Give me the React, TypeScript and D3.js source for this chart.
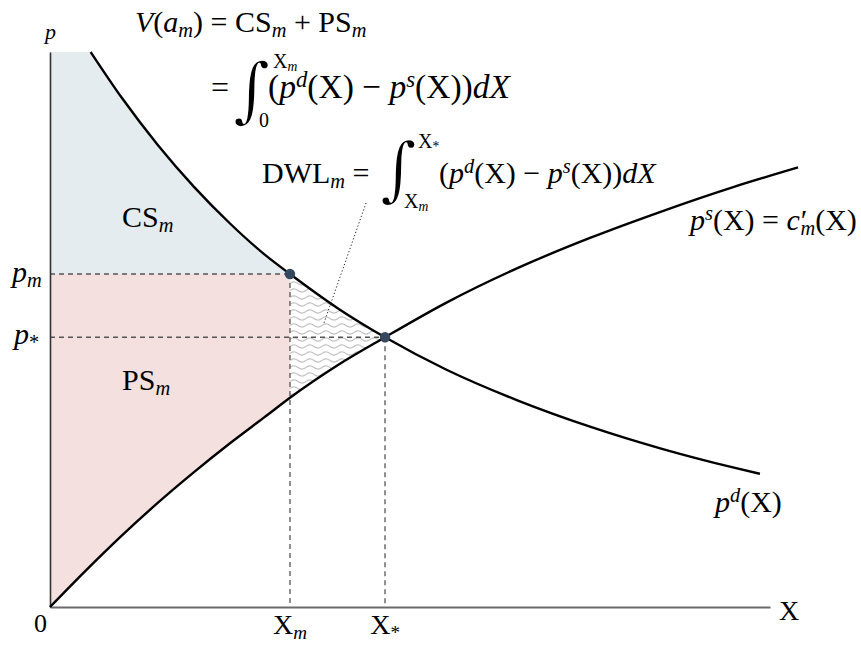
import React, { useEffect, useRef } from 'react';
import * as d3 from 'd3';

const W = 861;
const H = 645;

// demand curve p^d(X)
const demandX = [0.565, 1, 1.5, 2, 2.5, 3, 3.333, 4, 4.653, 5.5, 6.5, 7.5, 8.5, 9.5, 9.86];
const demandP = [10.0, 9.17, 8.32, 7.57, 6.91, 6.33, 6.0, 5.38, 4.86, 4.28, 3.72, 3.25, 2.85, 2.51, 2.4];

// supply curve p^s(X) = c'_m(X)
const supplyX = [0, 0.5, 1, 1.5, 2, 2.5, 3, 3.333, 4, 4.653, 5.5, 6.5, 7.5, 8.5, 9.5, 10.39];
const supplyP = [0, 0.66, 1.29, 1.88, 2.43, 2.95, 3.44, 3.77, 4.36, 4.86, 5.48, 6.11, 6.65, 7.13, 7.57, 7.92];

// monopoly point (X_m, p_m) and competitive point (X_*, p_*)
const markX = [3.333, 4.653];
const markP = [6.0, 4.86];
const pTop = 10;

const FONT = '"Liberation Serif", "Times New Roman", serif';

type Part = [string, string?, number?];

// kinds: 'i' italic, 'b' subscript, 'p' superscript (combine e.g. 'bi'); third item = dx
function mathText(g: any, x: number, y: number, parts: Part[], size: number, anchor = 'start') {
  const t = g.append('text')
    .attr('x', x).attr('y', y)
    .attr('font-size', size)
    .attr('text-anchor', anchor)
    .style('white-space', 'pre');
  let shift = 0;
  parts.forEach(([s, k = '', dx]) => {
    const sub = k.includes('b');
    const sup = k.includes('p');
    const target = sub ? size * 0.17 : sup ? -size * 0.34 : 0;
    const ts = t.append('tspan').text(s).attr('dy', target - shift);
    if (dx) ts.attr('dx', dx);
    if (sub || sup) ts.attr('font-size', size * 0.68);
    if (k.includes('i')) ts.attr('font-style', 'italic');
    shift = target;
  });
  return t;
}

// tall integral sign, its stroke thinned with a white outline
function integral(g: any, x: number, top: number, bottom: number) {
  const h = bottom - top;
  const size = h * 0.98;
  g.append('text')
    .text('\u222B')
    .attr('font-family', '"DejaVu Serif", serif')
    .attr('font-size', size)
    .attr('x', x)
    .attr('y', bottom - size * 0.2)
    .attr('stroke', '#fff')
    .attr('stroke-width', 1.6);
}

function Chart() {
  const ref = useRef<SVGSVGElement>(null);

  useEffect(() => {
    const svg = d3.select(ref.current);
    svg.selectAll('*').remove();

    const x = d3.scaleLinear().domain([0, 10]).range([50, 770]);
    const y = d3.scaleLinear().domain([0, 10]).range([607, 52]);

    const demand = demandX.map((d, i) => [d, demandP[i]] as [number, number]);
    const supply = supplyX.map((d, i) => [d, supplyP[i]] as [number, number]);
    const [Xm, Xs] = markX;
    const [pm] = markP;

    const line = d3.line<[number, number]>()
      .x(d => x(d[0]))
      .y(d => y(d[1]))
      .curve(d3.curveMonotoneX);

    const defs = svg.append('defs');

    defs.append('clipPath').attr('id', 'below-demand')
      .append('path')
      .attr('d', `M${x(0)},${y(pTop)}L` + line(demand)!.slice(1) +
        `L${x(demandX[demandX.length - 1])},${y(0)}L${x(0)},${y(0)}Z`);

    defs.append('clipPath').attr('id', 'above-supply')
      .append('path')
      .attr('d', line(supply) +
        `L${x(supplyX[supplyX.length - 1])},${y(pTop)}L${x(0)},${y(pTop)}Z`);

    const wave = defs.append('pattern')
      .attr('id', 'wave')
      .attr('patternUnits', 'userSpaceOnUse')
      .attr('x', x(Xm)).attr('y', 0)
      .attr('width', 16).attr('height', 7);
    wave.append('path')
      .attr('d', 'M0,3.5 Q4,0.3 8,3.5 T16,3.5')
      .attr('fill', 'none')
      .attr('stroke', '#c2c2c2')
      .attr('stroke-width', 1.2);

    // consumer surplus
    svg.append('rect')
      .attr('x', x(0)).attr('y', y(pTop))
      .attr('width', x(Xm) - x(0)).attr('height', y(pm) - y(pTop))
      .attr('fill', '#e4ecef')
      .attr('clip-path', 'url(#below-demand)');

    // producer surplus
    svg.append('rect')
      .attr('x', x(0)).attr('y', y(pm))
      .attr('width', x(Xm) - x(0)).attr('height', y(0) - y(pm))
      .attr('fill', '#f5e0e0')
      .attr('clip-path', 'url(#above-supply)');

    // deadweight loss
    svg.append('g').attr('clip-path', 'url(#below-demand)')
      .append('rect')
      .attr('x', x(Xm)).attr('y', y(pTop))
      .attr('width', x(Xs) - x(Xm)).attr('height', y(0) - y(pTop))
      .attr('fill', 'url(#wave)')
      .attr('clip-path', 'url(#above-supply)');

    // guide lines
    const guides = svg.append('g')
      .attr('stroke', '#555')
      .attr('stroke-width', 1.3)
      .attr('stroke-dasharray', '5,4');
    markX.forEach((mx, i) => {
      guides.append('line')
        .attr('x1', x(0)).attr('x2', x(mx))
        .attr('y1', y(markP[i])).attr('y2', y(markP[i]));
      guides.append('line')
        .attr('x1', x(mx)).attr('x2', x(mx))
        .attr('y1', y(markP[i])).attr('y2', y(0));
    });

    // axes
    const xAxis = svg.append('g')
      .attr('transform', `translate(0,${y(0)})`)
      .call(d3.axisBottom(x).tickValues([]).tickSizeOuter(0));
    xAxis.select('.domain').attr('stroke', '#6a6a6a').attr('stroke-width', 2);

    const yAxis = svg.append('g')
      .attr('transform', `translate(${x(0)},0)`)
      .call(d3.axisLeft(y).tickValues([]).tickSizeOuter(0));
    yAxis.select('.domain').attr('stroke', '#333').attr('stroke-width', 1.6);

    // curves
    svg.append('path').attr('d', line(demand))
      .attr('fill', 'none').attr('stroke', '#000').attr('stroke-width', 2.4);
    svg.append('path').attr('d', line(supply))
      .attr('fill', 'none').attr('stroke', '#000').attr('stroke-width', 2.4);

    // marked points
    svg.selectAll('.mark')
      .data(markX)
      .enter()
      .append('circle')
      .attr('cx', d => x(d))
      .attr('cy', (d, i) => y(markP[i]))
      .attr('r', 5.2)
      .attr('fill', '#34495e');

    // leader from DWL formula into the triangle
    svg.append('line')
      .attr('x1', 366).attr('y1', 203)
      .attr('x2', x(3.8)).attr('y2', y(5.1))
      .attr('stroke', '#222')
      .attr('stroke-width', 1)
      .attr('stroke-dasharray', '1.2,2.2');

    // text
    const g = svg.append('g').attr('font-family', FONT).attr('fill', '#000');

    mathText(g, 135, 32, [['V', 'i'], ['('], ['a', 'i'], ['m', 'bi'], [') = CS'], ['m', 'bi'], [' + PS'], ['m', 'bi']], 30);

    mathText(g, 211, 98, [['=']], 32);
    integral(g, 233, 55, 128);
    mathText(g, 273, 68, [['X'], ['m', 'bi']], 20);
    mathText(g, 259, 127, [['0']], 20);
    mathText(g, 268, 98, [['('], ['p', 'i'], ['d', 'pi'], ['(X) \u2212 '], ['p', 'i'], ['s', 'pi'], ['(X))'], ['dX', 'i']], 33.5);

    mathText(g, 262, 183, [['DWL'], ['m', 'bi'], [' =']], 30);
    integral(g, 380, 135, 207);
    mathText(g, 418, 148, [['X'], ['*', 'b']], 20);
    mathText(g, 404, 208, [['X'], ['m', 'bi']], 20);
    mathText(g, 439, 183, [['('], ['p', 'i'], ['d', 'pi'], ['(X) \u2212 '], ['p', 'i'], ['s', 'pi'], ['(X))'], ['dX', 'i']], 30);

    mathText(g, 122, 227, [['CS'], ['m', 'bi']], 30);
    mathText(g, 122, 390, [['PS'], ['m', 'bi']], 30);

    mathText(g, 45, 39, [['p', 'i']], 22);
    mathText(g, 12, 282, [['p', 'i'], ['m', 'bi']], 30);
    mathText(g, 14, 344, [['p', 'i'], ['*', 'b']], 30);
    mathText(g, 34, 632, [['0']], 26);
    mathText(g, 779, 620, [['X']], 28);
    mathText(g, x(Xm), 634, [['X'], ['m', 'bi']], 28, 'middle');
    mathText(g, x(Xs), 634, [['X'], ['*', 'b']], 28, 'middle');

    mathText(g, 690, 230, [['p', 'i'], ['s', 'pi'], ['(X) = '], ['c', 'i'], ['\u2032', 'r', 1], ['m', 'bi', -7], ['(X)']], 30);
    mathText(g, 715, 512, [['p', 'i'], ['d', 'pi'], ['(X)']], 30);
  }, []);

  return (
    <svg
      ref={ref}
      width={W}
      height={H}
      style={{ position: 'absolute', left: 0, top: 0, background: '#fff' }}
    />
  );
}

export default function App() {
  return <Chart />;
}
